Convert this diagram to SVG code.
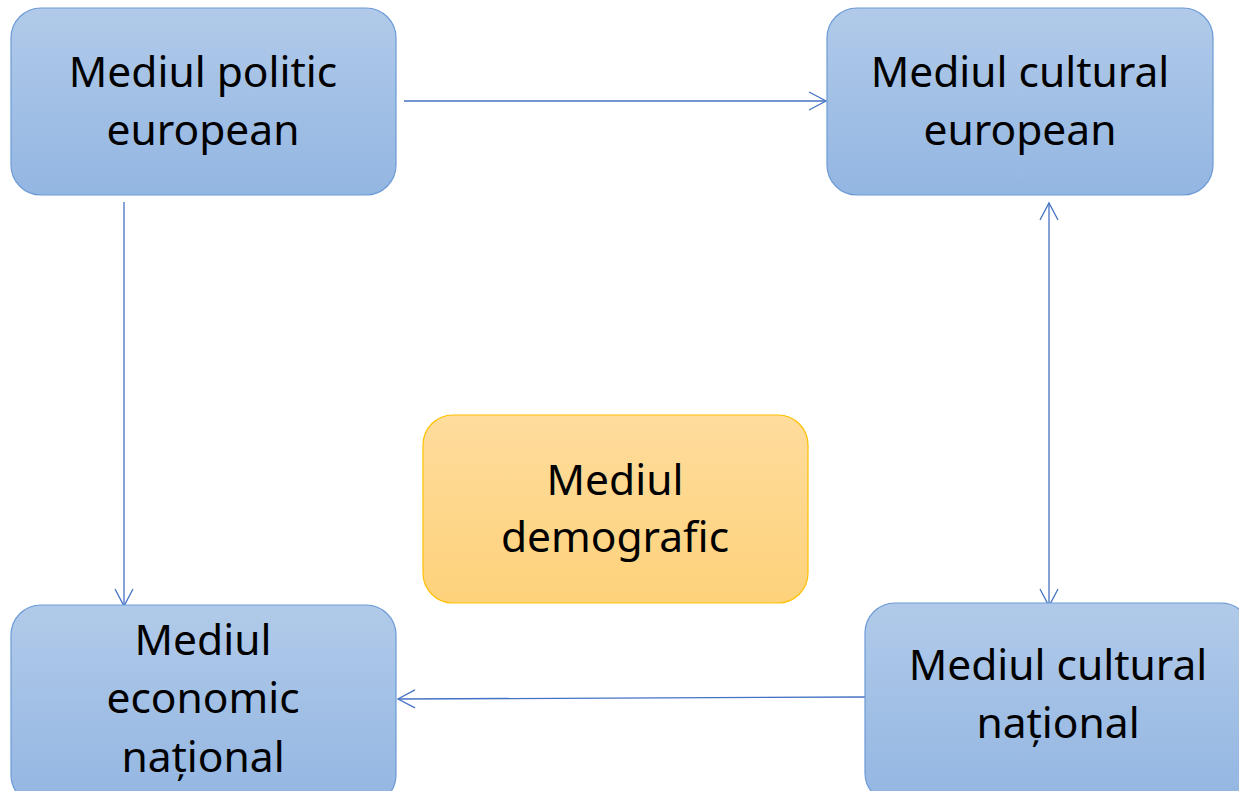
<svg xmlns="http://www.w3.org/2000/svg" width="1239" height="791" viewBox="0 0 1239 791">
<style>
.blue{fill:url(#gb);stroke:#6C9BD6;stroke-width:1.2}
.orange{fill:url(#go);stroke:#FFC000;stroke-width:1.2}
.t{font-family:"Noto Sans","Open Sans",sans-serif;font-size:42.5px;fill:#000;text-anchor:middle}
.c{fill:none;stroke:#4472C4;stroke-width:1.3}
</style>
<defs>
<linearGradient id="gb" x1="0" y1="0" x2="0" y2="1"><stop offset="0" stop-color="#B1CAE9"/><stop offset="1" stop-color="#93B6E2"/></linearGradient>
<linearGradient id="go" x1="0" y1="0" x2="0" y2="1"><stop offset="0" stop-color="#FEDC9C"/><stop offset="1" stop-color="#FED27B"/></linearGradient>
<marker id="ah" markerUnits="userSpaceOnUse" markerWidth="24" markerHeight="24" viewBox="-20 -12 24 24" refX="0" refY="0" orient="auto-start-reverse">
<path d="M-17,-9 L0,0 L-17,9" fill="none" stroke="#4472C4" stroke-width="1.3"/>
</marker>
</defs>
<g id="connectors">
<line class="c" x1="404" y1="101" x2="826" y2="101" marker-end="url(#ah)"/>
<line class="c" x1="124" y1="202" x2="124" y2="606" marker-end="url(#ah)"/>
<line class="c" x1="1049" y1="203" x2="1049" y2="606" marker-start="url(#ah)" marker-end="url(#ah)"/>
<line class="c" x1="865" y1="697" x2="398" y2="699" marker-end="url(#ah)"/>
</g>
<g id="n1"><rect class="blue" x="11" y="8" width="385" height="187" rx="30"/>
<text class="t" x="203" y="87">Mediul politic</text><text class="t" x="203" y="145">european</text></g>
<g id="n2"><rect class="blue" x="827" y="8" width="386" height="187" rx="30"/>
<text class="t" x="1020" y="87">Mediul cultural</text><text class="t" x="1020" y="145">european</text></g>
<g id="n3"><rect class="blue" x="11" y="605" width="385" height="200" rx="30"/>
<text class="t" x="203" y="655">Mediul</text><text class="t" x="203" y="713">economic</text><text class="t" x="203" y="772">național</text></g>
<g id="n4"><rect class="blue" x="865" y="603" width="386" height="200" rx="30"/>
<text class="t" x="1058" y="680">Mediul cultural</text><text class="t" x="1058" y="738">național</text></g>
<g id="n5"><rect class="orange" x="423" y="415" width="385" height="188" rx="30"/>
<text class="t" x="615" y="495">Mediul</text><text class="t" x="615" y="552">demografic</text></g>
</svg>
